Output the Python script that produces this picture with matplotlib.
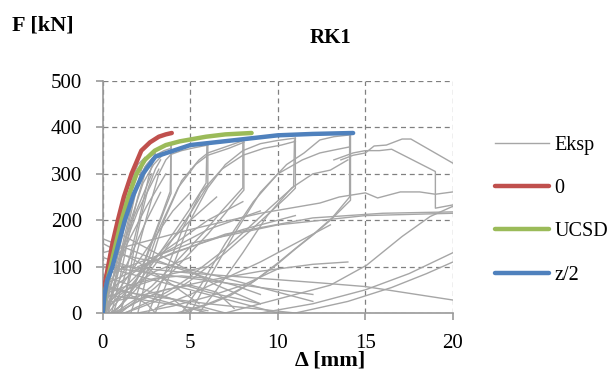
import matplotlib
matplotlib.use('Agg')
from matplotlib import pyplot as plt

plt.rcParams['font.family'] = ['Liberation Serif', 'DejaVu Serif']

# model curves (displacement mm, force kN)
x_0 = [0, 0.1, 0.3, 0.55, 0.86, 1.2, 1.64, 2.2, 2.7, 3.2, 3.6, 3.94]
f_0 = [0, 60, 100, 150, 200, 250, 300, 350, 368, 380, 385, 388]

x_ucsd = [0, 0.15, 0.44, 0.75, 1.07, 1.5, 1.93, 2.4, 2.97, 3.6, 4.4, 5.9, 7.0, 8.5]
f_ucsd = [0, 50, 100, 150, 200, 255, 300, 330, 350, 362, 370, 380, 385, 388]

x_z2 = [0, 0.1, 0.25, 0.55, 0.9, 1.26, 1.75, 2.29, 3.0, 4.2, 5.0, 7.4, 10.0, 12.0, 14.3]
f_z2 = [0, 40, 70, 100, 150, 200, 255, 300, 337, 352, 362, 372, 383, 386, 388]

# experimental loops (hand read, Eksp)
eksp_x = [
    # first cycles, fan from origin
    [0, 0.3, 0.8, 1.3, 1.7, 2.0, 2.4],
    [0, 0.4, 1.0, 1.6, 2.1, 2.6, 3.0],
    [0.1, 0.6, 1.2, 1.8, 2.4, 3.0, 3.5, 3.9],
    [0.2, 0.9, 1.6, 2.3, 2.9, 3.4, 3.9],
    [0, 0.5, 1.0, 1.3, 1.5],
    [0, 0.6, 1.1, 1.6, 2.0],
    [0, 0.35, 0.7, 1.0, 1.25],
    [0.3, 0.7, 1.2, 1.7, 2.1, 2.5, 2.8],
    [0.5, 1.0, 1.5, 2.0, 2.4, 2.7],
    [1.0, 1.4, 1.8, 2.2, 2.6, 3.0, 3.3],
    [0, 0.8, 1.5, 2.3],
    [0, 1.0, 1.8, 2.8],
    [0.2, 1.2, 2.0, 3.2],
    [0, 1.4, 2.5, 3.6],
    [0, 1.2, 2.5, 3.3],
    [0, 2.0, 4.0, 5.0],
    [0.3, 2.5, 5.0, 6.5],
    [0, 3.0, 6.0, 8.0],
    [0, 3.0, 6.0, 9.0],
    [0, 4.0, 8.0, 11.0],
    [0, 1.0, 3.0, 5.0],
    [0, 2.0, 4.0, 6.0],
    # unloading after the small cycles
    [2.4, 2.0, 1.4, 0.9, 0.5, 0.3],
    [3.0, 2.6, 2.0, 1.4, 0.9, 0.6],
    [3.9, 3.9, 3.5, 3.0, 2.5, 2.0, 1.5, 1.0, 0.5],
    [3.9, 3.85, 3.4, 2.9, 2.4, 1.9, 1.4, 0.9, 0.4],
    [1.0, 1.8, 2.6, 3.2, 3.6, 3.9, 4.5, 5.2, 6.0],
    [6.0, 6.0, 5.5, 5.0, 4.0, 3.0, 2.0, 1.0, 0.5],
    [5.95, 5.9, 5.4, 4.9, 3.9, 2.9, 1.9, 1.1, 0.6],
    [2.0, 2.5, 3.5, 4.5, 5.5, 6.0, 7.0, 8.06],
    [1.6, 2.2, 3.2, 4.3, 5.3, 6.0, 7.2, 8.06],
    [8.06, 8.06, 7.5, 7.0, 6.0, 5.0, 4.0, 3.0, 2.0, 1.0, 0.5],
    [8.0, 8.0, 7.4, 6.8, 5.8, 4.8, 3.8, 2.8, 1.8, 1.0, 0.6],
    [3.0, 4.0, 5.0, 6.0, 7.0, 8.0, 9.0, 10.0, 11.0],
    [2.6, 3.6, 4.6, 5.6, 6.8, 8.0, 9.2, 10.2, 11.0],
    [11.0, 11.0, 10.5, 9.7, 8.5, 7.0, 6.0, 5.0, 4.0, 3.0, 2.0, 1.2],
    [10.95, 10.9, 10.3, 9.5, 8.3, 6.9, 5.8, 4.8, 3.8, 2.8, 1.9, 1.3],
    [5.0, 6.0, 7.5, 9.0, 10.5, 11.5, 12.4, 13.2, 14.15],
    [4.5, 5.6, 7.0, 8.6, 10.0, 11.4, 12.4, 13.3, 14.1],
    [5.5, 6.5, 8.0, 9.4, 10.8, 12.0, 13.0, 14.0],
    [14.15, 14.15, 13.0, 12.0, 11.0, 9.9, 8.5, 7.0, 6.0, 5.0, 4.2],
    [14.1, 14.1, 13.1, 12.1, 11.1, 10.0, 8.7, 7.3, 6.3, 5.3, 4.6],
    # last cycles beyond 14 mm
    [13.6, 14.3, 15.0, 15.5, 16.2, 17.1, 17.6, 20.0],
    [13.2, 14.3, 15.0, 15.8, 16.5, 19.0, 19.0, 20.0],
    [0, 5.0, 9.0, 12.4, 13.5, 15.0, 15.7, 17.0, 18.1, 19.0, 20.0],
    [0, 5.0, 10.0, 15.0, 20.0],
    [2.0, 7.0, 12.0, 16.0, 20.0],
    [7.0, 10.0, 13.0, 15.07, 17.1, 18.7, 20.0],
    [9.0, 12.0, 15.0, 17.5, 20.0],
    [11.0, 14.0, 16.5, 18.5, 20.0],
    # crossing branches in the lower part
    [0, 5.0, 12.4, 15.0, 20.0],
    [0, 3.0, 6.0],
    [0, 4.0, 8.0, 10.0],
    [0.5, 3.0, 6.5, 9.5, 12.0],
    [1.0, 3.5, 6.5, 9.0],
    [0.8, 2.0, 3.5, 5.0, 6.5, 7.5],
    [0, 1.5, 3.0, 4.5, 6.0, 7.5, 9.0],
    [3.0, 5.0, 7.0, 9.0, 11.0, 13.0],
    [0, 2.0, 4.0, 5.5],
    [0, 2.0, 4.0, 6.0],
    [0, 3.0, 6.0, 9.0],
    [0, 2.0, 4.0, 6.0, 7.0],
    [0.5, 3.0, 6.0, 9.0, 11.0],
    [0, 2.0, 4.0, 6.0],
    [0, 3.0, 6.0, 9.0, 12.0],
    [1.0, 2.0, 3.0, 4.0, 5.0],
    [0, 0.8, 1.5, 2.5, 3.0],
    [0, 3.0, 6.0, 9.0, 12.0, 14.0],
    [2.0, 4.0, 6.0, 8.0, 10.0],
]
eksp_f = [
    [0, 60, 150, 230, 290, 320, 335],
    [0, 70, 170, 260, 310, 335, 345],
    [0, 80, 180, 260, 315, 340, 350, 355],
    [0, 100, 200, 280, 320, 340, 350],
    [0, 120, 200, 250, 280],
    [0, 110, 200, 270, 310],
    [0, 90, 170, 220, 255],
    [0, 70, 160, 240, 290, 320, 333],
    [0, 80, 170, 250, 300, 325],
    [0, 60, 140, 210, 270, 310, 330],
    [0, 140, 230, 300],
    [0, 130, 210, 300],
    [0, 140, 220, 310],
    [20, 150, 230, 300],
    [0, 90, 200, 260],
    [0, 110, 220, 260],
    [0, 100, 200, 250],
    [10, 120, 200, 240],
    [40, 120, 180, 220],
    [60, 130, 180, 210],
    [0, 40, 90, 120],
    [30, 60, 85, 100],
    [335, 280, 180, 90, 30, 0],
    [345, 290, 190, 100, 35, 0],
    [366, 258, 220, 170, 120, 75, 40, 15, 0],
    [362, 262, 215, 165, 115, 70, 35, 12, 0],
    [0, 110, 220, 300, 330, 342, 350, 356, 362],
    [368, 275, 245, 215, 160, 105, 55, 15, 0],
    [365, 280, 250, 220, 165, 110, 60, 20, 0],
    [0, 80, 200, 285, 330, 345, 358, 372],
    [0, 70, 180, 270, 320, 340, 355, 368],
    [372, 265, 240, 215, 170, 130, 90, 55, 25, 5, 0],
    [368, 270, 245, 220, 175, 135, 95, 58, 28, 8, 0],
    [0, 100, 200, 270, 320, 350, 365, 372, 377],
    [0, 90, 185, 260, 310, 340, 355, 362, 370],
    [377, 269, 250, 222, 180, 130, 100, 70, 45, 25, 10, 0],
    [373, 272, 252, 225, 183, 135, 103, 73, 48, 27, 12, 0],
    [0, 70, 170, 260, 320, 345, 373, 380, 384],
    [0, 60, 150, 240, 300, 330, 345, 352, 358],
    [0, 50, 130, 210, 270, 300, 308, 330],
    [388, 243, 200, 168, 138, 103, 65, 35, 20, 8, 0],
    [384, 250, 205, 172, 142, 108, 70, 38, 22, 10, 0],
    [330, 340, 345, 360, 362, 375, 375, 323],
    [330, 345, 350, 350, 353, 305, 226, 233],
    [130, 180, 215, 237, 250, 259, 248, 261, 261, 256, 261],
    [80, 150, 190, 210, 215],
    [100, 170, 205, 215, 218],
    [0, 30, 60, 103, 165, 208, 230],
    [0, 20, 50, 85, 130],
    [0, 25, 55, 85, 110],
    [105, 86, 65, 57, 28],
    [60, 30, 0],
    [100, 60, 20, 0],
    [130, 110, 80, 50, 25],
    [170, 120, 60, 20],
    [0, 25, 50, 60, 45, 10],
    [40, 60, 75, 80, 75, 60, 40],
    [10, 40, 75, 110, 150, 190],
    [150, 110, 60, 20],
    [160, 130, 100, 75],
    [120, 80, 45, 20],
    [80, 55, 30, 10, 0],
    [50, 35, 20, 8, 0],
    [40, 30, 18, 5],
    [100, 85, 70, 55, 40],
    [0, 30, 40, 30, 0],
    [0, 30, 40, 20, 0],
    [20, 45, 70, 90, 105, 110],
    [0, 15, 35, 60, 95],
]

fig = plt.figure(figsize=(6.12, 3.70), dpi=100)
ax = fig.add_axes([0.168, 0.154, 0.572, 0.627])

for i in range(len(eksp_x)):
    ax.plot(eksp_x[i], eksp_f[i], color='#a6a6a6', lw=1.0,
            label='Eksp' if i == 0 else None, zorder=2)

ax.plot(x_0, f_0, color='#c0504d', lw=3.2, label='0', zorder=3,
        solid_capstyle='round')
ax.plot(x_ucsd, f_ucsd, color='#9bbb59', lw=3.2, label='UCSD', zorder=4,
        solid_capstyle='round')
ax.plot(x_z2, f_z2, color='#4f81bd', lw=3.2, label='z/2', zorder=5,
        solid_capstyle='round')

ax.set_xlim(0, 20)
ax.set_ylim(0, 500)
ax.set_xticks([0, 5, 10, 15, 20])
ax.set_yticks([0, 100, 200, 300, 400, 500])
ax.grid(True, color='#808080', linestyle=(0, (4, 3)), lw=0.9)
ax.set_axisbelow(True)

for s in ['top', 'right']:
    ax.spines[s].set_visible(False)
for s in ['left', 'bottom']:
    ax.spines[s].set_color('#9a9a9a')
    ax.spines[s].set_linewidth(1.2)
ax.tick_params(axis='both', colors='#9a9a9a', length=5, width=1.2,
               labelsize=15, labelcolor='black')
ax.tick_params(axis='y', pad=10)
ax.tick_params(axis='x', pad=10)

fig.text(0.54, 0.897, 'RK1', ha='center', va='center', fontsize=15,
         fontweight='bold')
fig.text(0.02, 0.93, 'F [kN]', ha='left', va='center', fontsize=16,
         fontweight='bold')
fig.text(0.54, 0.026, '\u0394 [mm]', ha='center', va='center', fontsize=16,
         fontweight='bold')

fig.legend(loc='center left', bbox_to_anchor=(0.792, 0.432), frameon=False,
           fontsize=14.5, handlelength=2.7, handletextpad=0.25, borderpad=0,
           labelspacing=1.2)

fig.savefig('out.png', dpi=100)
